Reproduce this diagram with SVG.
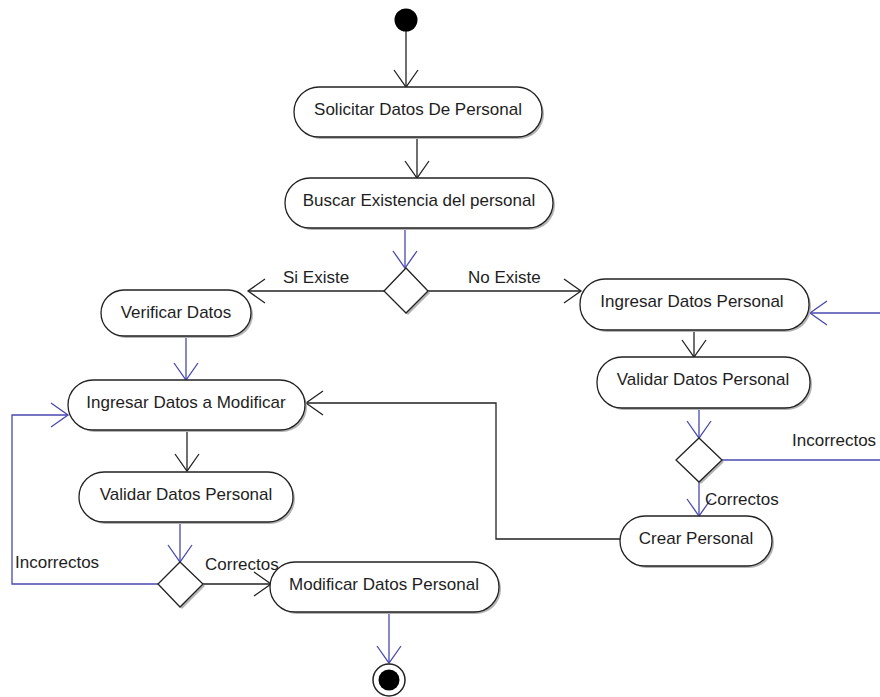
<svg xmlns="http://www.w3.org/2000/svg" width="880" height="697" viewBox="0 0 880 697">
  <style>
    .act { fill: #ffffff; stroke: #222222; stroke-width: 1.3; }
    .shd { fill: #b4b4b4; stroke: none; }
    .lbl { font-family: "Liberation Sans", Arial, sans-serif; font-size: 17px; fill: #1e1e1e; }
    .ctr { text-anchor: middle; }
    .blk { fill: none; stroke: #222222; stroke-width: 1.3; }
    .blu { fill: none; stroke: #4848b0; stroke-width: 1.3; }
  </style>
  <defs>
    <marker id="arrBlk" markerUnits="userSpaceOnUse" markerWidth="24" markerHeight="28" viewBox="-20 -14 24 28" refX="0" refY="0" orient="auto">
      <path d="M-17,-12 L0,0 L-17,12" fill="none" stroke="#222222" stroke-width="1.3"/>
    </marker>
    <marker id="arrBlu" markerUnits="userSpaceOnUse" markerWidth="24" markerHeight="28" viewBox="-20 -14 24 28" refX="0" refY="0" orient="auto">
      <path d="M-17,-12 L0,0 L-17,12" fill="none" stroke="#4848b0" stroke-width="1.3"/>
    </marker>
  </defs>

  <rect width="880" height="697" fill="#ffffff"/>

  <!-- connectors -->
  <g id="connectors">
    <line class="blk" x1="406" y1="31" x2="406" y2="87" marker-end="url(#arrBlk)"/>
    <line class="blk" x1="417" y1="137" x2="417" y2="178" marker-end="url(#arrBlk)"/>
    <line class="blu" x1="405" y1="228" x2="405" y2="268" marker-end="url(#arrBlu)"/>
    <line class="blk" x1="384" y1="291" x2="248" y2="291" marker-end="url(#arrBlk)"/>
    <line class="blk" x1="428" y1="291" x2="581" y2="291" marker-end="url(#arrBlk)"/>
    <line class="blu" x1="186" y1="335" x2="186" y2="380" marker-end="url(#arrBlu)"/>
    <line class="blk" x1="187" y1="431" x2="187" y2="471" marker-end="url(#arrBlk)"/>
    <line class="blu" x1="180" y1="522" x2="180" y2="562" marker-end="url(#arrBlu)"/>
    <polyline class="blu" points="158,584 12,584 12,415 68,415" marker-end="url(#arrBlu)"/>
    <line class="blk" x1="203" y1="584" x2="271" y2="584" marker-end="url(#arrBlk)"/>
    <line class="blu" x1="389" y1="612" x2="389" y2="663" marker-end="url(#arrBlu)"/>
    <line class="blu" x1="880" y1="313" x2="810" y2="313" marker-end="url(#arrBlu)"/>
    <line class="blk" x1="694" y1="330" x2="694" y2="357" marker-end="url(#arrBlk)"/>
    <line class="blu" x1="699" y1="408" x2="699" y2="438" marker-end="url(#arrBlu)"/>
    <line class="blu" x1="722" y1="460" x2="880" y2="460"/>
    <line class="blu" x1="699" y1="482" x2="699" y2="516" marker-end="url(#arrBlu)"/>
    <polyline class="blk" points="620,539 496,539 496,403 306,403" marker-end="url(#arrBlk)"/>

    <text class="lbl" x="283" y="283">Si Existe</text>
    <text class="lbl" x="468" y="283">No Existe</text>
    <text class="lbl" x="792" y="446">Incorrectos</text>
    <text class="lbl" x="705" y="505">Correctos</text>
    <text class="lbl" x="15" y="568">Incorrectos</text>
    <text class="lbl" x="205" y="570">Correctos</text>
  </g>

  <!-- start -->
  <g id="start">
    <circle cx="406" cy="20" r="11.5" fill="#000000"/>
  </g>

  <g id="solicitar">
    <rect class="shd" x="296" y="89" width="248" height="50" rx="25"/>
    <rect class="act" x="294" y="87" width="248" height="50" rx="25"/>
    <text class="lbl ctr" x="418" y="115">Solicitar Datos De Personal</text>
  </g>

  <g id="buscar">
    <rect class="shd" x="287" y="180" width="268" height="50" rx="25"/>
    <rect class="act" x="285" y="178" width="268" height="50" rx="25"/>
    <text class="lbl ctr" x="419" y="206">Buscar Existencia del personal</text>
  </g>

  <g id="decisionExiste">
    <polygon class="shd" points="408,270 430,293 408,315 386,293"/>
    <polygon class="act" points="406,268 428,291 406,313 384,291"/>
  </g>

  <g id="verificar">
    <rect class="shd" x="103" y="292" width="150" height="46" rx="23"/>
    <rect class="act" x="101" y="290" width="150" height="46" rx="23"/>
    <text class="lbl ctr" x="176" y="318">Verificar Datos</text>
  </g>

  <g id="ingresarModificar">
    <rect class="shd" x="70" y="382" width="237" height="50" rx="25"/>
    <rect class="act" x="68" y="380" width="237" height="50" rx="25"/>
    <text class="lbl ctr" x="186" y="408">Ingresar Datos a Modificar</text>
  </g>

  <g id="validarIzq">
    <rect class="shd" x="81" y="474" width="214" height="50" rx="25"/>
    <rect class="act" x="79" y="472" width="214" height="50" rx="25"/>
    <text class="lbl ctr" x="186" y="500">Validar Datos Personal</text>
  </g>

  <g id="decisionIzq">
    <polygon class="shd" points="182,564 205,586 182,609 160,586"/>
    <polygon class="act" points="180,562 203,584 180,607 158,584"/>
  </g>

  <g id="modificar">
    <rect class="shd" x="272" y="564" width="229" height="50" rx="25"/>
    <rect class="act" x="270" y="562" width="229" height="50" rx="25"/>
    <text class="lbl ctr" x="384" y="590">Modificar Datos Personal</text>
  </g>

  <g id="end">
    <circle cx="389" cy="680" r="16" fill="#ffffff" stroke="#222222" stroke-width="1.5"/>
    <circle cx="389" cy="680" r="10.5" fill="#000000"/>
  </g>

  <g id="ingresarPersonal">
    <rect class="shd" x="582" y="281" width="229" height="51" rx="25"/>
    <rect class="act" x="580" y="279" width="229" height="51" rx="25"/>
    <text class="lbl ctr" x="692" y="307">Ingresar Datos Personal</text>
  </g>

  <g id="validarDer">
    <rect class="shd" x="599" y="359" width="213" height="51" rx="25"/>
    <rect class="act" x="597" y="357" width="213" height="51" rx="25"/>
    <text class="lbl ctr" x="703" y="385">Validar Datos Personal</text>
  </g>

  <g id="decisionDer">
    <polygon class="shd" points="701,440 724,462 701,484 678,462"/>
    <polygon class="act" points="699,438 722,460 699,482 676,460"/>
  </g>

  <g id="crear">
    <rect class="shd" x="622" y="518" width="152" height="50" rx="25"/>
    <rect class="act" x="620" y="516" width="152" height="50" rx="25"/>
    <text class="lbl ctr" x="696" y="544">Crear Personal</text>
  </g>
</svg>
